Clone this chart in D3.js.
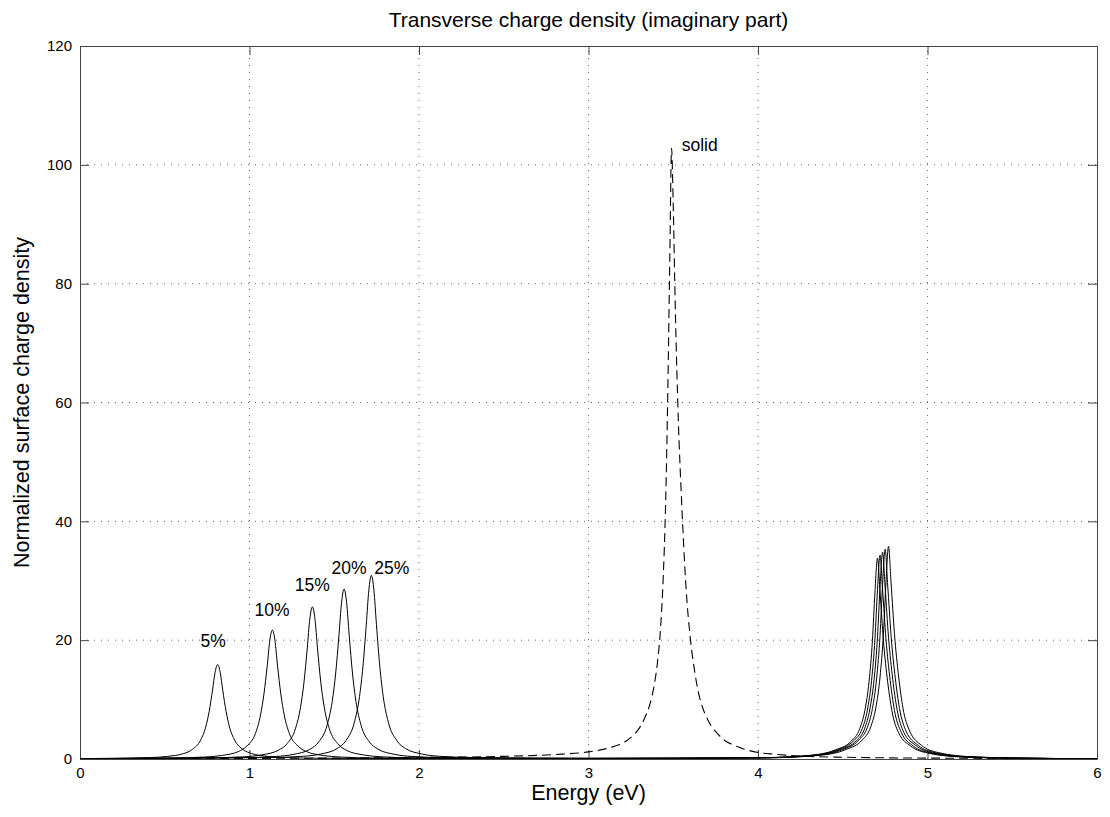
<!DOCTYPE html>
<html>
<head>
<meta charset="utf-8">
<script src="https://cdn.jsdelivr.net/npm/d3@7"></script>
<style>
  body { margin: 0; background: #fff; }
  text { font-family: "Liberation Sans", Arial, Helvetica, sans-serif; fill: #000; }
</style>
</head>
<body>
<svg id="chart" width="1110" height="817"></svg>
<script>
// ---- data ----
const title = "Transverse charge density (imaginary part)";
const xLabel = "Energy (eV)";
const yLabel = "Normalized surface charge density";
const xTicks = [0, 1, 2, 3, 4, 5, 6];
const yTicks = [0, 20, 40, 60, 80, 100, 120];

const seriesNames = ["5%", "10%", "15%", "20%", "25%"];

const energy05 = [0.0, 0.212, 0.412, 0.512, 0.612, 0.662, 0.712, 0.742, 0.762, 0.782, 0.797, 0.812, 0.827, 0.842, 0.862, 0.882, 0.912, 0.962, 1.012, 1.112, 1.212, 1.412, 2.0, 3.0, 3.6,
  4.005, 4.305, 4.455, 4.55, 4.6, 4.63, 4.655, 4.675, 4.69, 4.705, 4.72, 4.74, 4.765, 4.79, 4.83, 4.9, 5.0, 5.205, 5.505, 6.0];
const density05 = [0.05, 0.13, 0.24, 0.43, 0.92, 1.6, 3.2, 5.4, 8.0, 11.6, 14.6, 15.9, 14.6, 11.6, 8.0, 5.4, 3.2, 1.6, 0.92, 0.43, 0.24, 0.13, 0.06, 0.08, 0.12,
  0.2, 0.61, 1.52, 3.0, 5.1, 8.1, 13.0, 19.9, 28.1, 33.8, 28.1, 19.9, 13.0, 8.1, 4.4, 2.2, 1.01, 0.34, 0.14, 0.05];

const energy10 = [0.0, 0.535, 0.735, 0.835, 0.935, 0.985, 1.035, 1.065, 1.085, 1.105, 1.12, 1.135, 1.15, 1.165, 1.185, 1.205, 1.235, 1.285, 1.335, 1.435, 1.535, 1.735, 2.5, 3.5,
  4.02, 4.32, 4.47, 4.565, 4.615, 4.645, 4.67, 4.69, 4.705, 4.72, 4.735, 4.755, 4.78, 4.805, 4.845, 4.915, 5.015, 5.22, 5.52, 6.0];
const density10 = [0.06, 0.17, 0.33, 0.59, 1.26, 2.2, 4.3, 7.4, 10.9, 15.8, 20.0, 21.7, 20.0, 15.8, 10.9, 7.4, 4.3, 2.2, 1.26, 0.59, 0.33, 0.17, 0.08, 0.12,
  0.21, 0.62, 1.54, 3.1, 5.1, 8.2, 13.2, 20.2, 28.5, 34.3, 28.5, 20.2, 13.2, 8.2, 4.5, 2.2, 1.03, 0.34, 0.14, 0.05];

const energy15 = [0.0, 0.771, 0.971, 1.071, 1.171, 1.221, 1.271, 1.301, 1.321, 1.341, 1.356, 1.371, 1.386, 1.401, 1.421, 1.441, 1.471, 1.521, 1.571, 1.671, 1.771, 1.971, 3.0,
  4.035, 4.335, 4.485, 4.58, 4.63, 4.66, 4.685, 4.705, 4.72, 4.735, 4.75, 4.77, 4.795, 4.82, 4.86, 4.93, 5.03, 5.235, 5.535, 6.0];
const density15 = [0.06, 0.2, 0.38, 0.69, 1.48, 2.56, 5.1, 8.7, 12.8, 18.7, 23.6, 25.6, 23.6, 18.7, 12.8, 8.7, 5.1, 2.56, 1.48, 0.69, 0.38, 0.2, 0.09,
  0.21, 0.63, 1.57, 3.1, 5.2, 8.4, 13.4, 20.5, 28.9, 34.8, 28.9, 20.5, 13.4, 8.4, 4.5, 2.3, 1.04, 0.35, 0.14, 0.05];

const energy20 = [0.0, 0.958, 1.158, 1.258, 1.358, 1.408, 1.458, 1.488, 1.508, 1.528, 1.543, 1.558, 1.573, 1.588, 1.608, 1.628, 1.658, 1.708, 1.758, 1.858, 1.958, 2.158, 3.0,
  4.05, 4.35, 4.5, 4.595, 4.645, 4.675, 4.7, 4.72, 4.735, 4.75, 4.765, 4.785, 4.81, 4.835, 4.875, 4.945, 5.045, 5.25, 5.55, 6.0];
const density20 = [0.06, 0.23, 0.43, 0.77, 1.66, 2.86, 5.7, 9.7, 14.3, 20.9, 26.3, 28.6, 26.3, 20.9, 14.3, 9.7, 5.7, 2.86, 1.66, 0.77, 0.43, 0.23, 0.1,
  0.21, 0.64, 1.59, 3.2, 5.3, 8.5, 13.6, 20.8, 29.3, 35.3, 29.3, 20.8, 13.6, 8.5, 4.6, 2.3, 1.06, 0.35, 0.14, 0.05];

const energy25 = [0.0, 1.119, 1.319, 1.419, 1.519, 1.569, 1.619, 1.649, 1.669, 1.689, 1.704, 1.719, 1.734, 1.749, 1.769, 1.789, 1.819, 1.869, 1.919, 2.019, 2.119, 2.319, 3.0,
  4.07, 4.37, 4.52, 4.615, 4.665, 4.695, 4.72, 4.74, 4.755, 4.77, 4.785, 4.805, 4.83, 4.855, 4.895, 4.965, 5.065, 5.27, 5.57, 6.0];
const density25 = [0.06, 0.25, 0.46, 0.83, 1.79, 3.1, 6.2, 10.5, 15.5, 22.6, 28.4, 30.9, 28.4, 22.6, 15.5, 10.5, 6.2, 3.1, 1.79, 0.83, 0.46, 0.25, 0.12,
  0.21, 0.64, 1.61, 3.2, 5.4, 8.6, 13.8, 21.1, 29.7, 35.8, 29.7, 21.1, 13.8, 8.6, 4.7, 2.3, 1.07, 0.36, 0.14, 0.05];

const energySolid = [0.0, 1.0, 2.0, 2.5, 2.8, 3.0, 3.1, 3.17, 3.22, 3.26, 3.3, 3.33, 3.36, 3.385, 3.405, 3.425, 3.44, 3.455, 3.468, 3.48, 3.49,
  3.5, 3.512, 3.53, 3.55, 3.575, 3.6, 3.625, 3.65, 3.675, 3.7, 3.73, 3.76, 3.8, 3.85, 3.92, 4.0, 4.1, 4.25, 4.5, 5.0, 6.0];
const densitySolid = [0.04, 0.1, 0.25, 0.45, 0.75, 1.2, 1.7, 2.3, 3.0, 3.9, 5.2, 6.8, 9.0, 12.0, 15.8, 22.0, 30.0, 43.0, 62.0, 85.0, 102.8,
  93.0, 76.0, 57.0, 43.0, 29.0, 20.5, 15.0, 11.0, 8.5, 6.8, 5.3, 4.3, 3.2, 2.4, 1.65, 1.1, 0.8, 0.5, 0.3, 0.15, 0.07];

// label anchor positions in data units (near each peak)
const labelText = ["5%", "10%", "15%", "20%", "25%", "solid"];
const labelEnergy = [0.785, 1.133, 1.37, 1.587, 1.84, 3.55];
const labelDensity = [18.8, 24.0, 28.2, 31.2, 31.2, 102.4];
const labelAnchor = ["middle", "middle", "middle", "middle", "middle", "start"];

// ---- drawing ----
const W = 1110, H = 817;
const margin = { left: 80, right: 13, top: 46, bottom: 58 };
const svg = d3.select("#chart");
const plotW = W - margin.left - margin.right;
const plotH = H - margin.top - margin.bottom;

const x = d3.scaleLinear().domain([0, 6]).range([margin.left, margin.left + plotW]);
const y = d3.scaleLinear().domain([0, 120]).range([margin.top + plotH, margin.top]);

// grid
const grid = svg.append("g").attr("stroke", "#666").attr("stroke-width", 1).attr("stroke-dasharray", "1,6");
xTicks.slice(1, -1).forEach(t => {
  grid.append("line").attr("x1", x(t)).attr("x2", x(t)).attr("y1", y(0)).attr("y2", y(120));
});
yTicks.slice(1, -1).forEach(t => {
  grid.append("line").attr("x1", x(0)).attr("x2", x(6)).attr("y1", y(t)).attr("y2", y(t));
});

// axes (ticks inside, on all four sides)
const tickLen = 9;
const axisColor = "#444";
const bottomAxis = d3.axisBottom(x).tickValues(xTicks).tickSizeInner(-tickLen).tickSizeOuter(0).tickPadding(8).tickFormat(d3.format("d"));
const leftAxis = d3.axisLeft(y).tickValues(yTicks).tickSizeInner(-tickLen).tickSizeOuter(0).tickPadding(8).tickFormat(d3.format("d"));
const topAxis = d3.axisTop(x).tickValues(xTicks).tickSizeInner(-tickLen).tickSizeOuter(0).tickFormat("");
const rightAxis = d3.axisRight(y).tickValues(yTicks).tickSizeInner(-tickLen).tickSizeOuter(0).tickFormat("");

function styleAxis(g) {
  g.selectAll("path").attr("stroke", axisColor);
  g.selectAll("line").attr("stroke", axisColor);
  g.selectAll("text").attr("font-size", "15px").attr("fill", "#000")
    .attr("font-family", "'Liberation Sans', Arial, Helvetica, sans-serif");
}
svg.append("g").attr("transform", `translate(0,${y(0)})`).call(bottomAxis).call(styleAxis);
svg.append("g").attr("transform", `translate(${x(0)},0)`).call(leftAxis).call(styleAxis);
svg.append("g").attr("transform", `translate(0,${y(120)})`).call(topAxis).call(styleAxis);
svg.append("g").attr("transform", `translate(${x(6)},0)`).call(rightAxis).call(styleAxis);

// clip
svg.append("clipPath").attr("id", "plotclip").append("rect")
  .attr("x", x(0)).attr("y", y(120)).attr("width", x(6) - x(0)).attr("height", y(0) - y(120));

const line = d3.line().x(d => x(d[0])).y(d => y(d[1])).curve(d3.curveMonotoneX);
const curves = svg.append("g").attr("clip-path", "url(#plotclip)");

const seriesE = [energy05, energy10, energy15, energy20, energy25];
const seriesD = [density05, density10, density15, density20, density25];
seriesE.forEach((es, i) => {
  const pts = es.map((e, j) => [e, seriesD[i][j]]);
  curves.append("path").datum(pts).attr("d", line)
    .attr("fill", "none").attr("stroke", "#000").attr("stroke-width", 1);
});
curves.append("path").datum(energySolid.map((e, j) => [e, densitySolid[j]])).attr("d", line)
  .attr("fill", "none").attr("stroke", "#000").attr("stroke-width", 1.1).attr("stroke-dasharray", "9,5");

// annotations
labelText.forEach((t, i) => {
  svg.append("text").attr("x", x(labelEnergy[i])).attr("y", y(labelDensity[i]))
    .attr("text-anchor", labelAnchor[i]).attr("font-size", "17.5px").text(t);
});

// title & labels
svg.append("text").attr("x", (x(0) + x(6)) / 2).attr("y", 27).attr("text-anchor", "middle")
  .attr("font-size", "21px").text(title);
svg.append("text").attr("x", (x(0) + x(6)) / 2).attr("y", 800).attr("text-anchor", "middle")
  .attr("font-size", "21.5px").text(xLabel);
svg.append("text").attr("transform", `translate(29,${(y(0) + y(120)) / 2}) rotate(-90)`)
  .attr("text-anchor", "middle").attr("font-size", "21.5px").text(yLabel);
</script>
</body>
</html>
